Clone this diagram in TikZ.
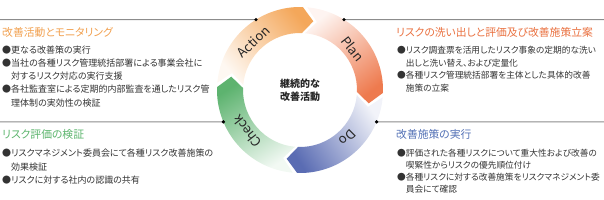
\documentclass[tikz,border=0pt]{standalone}
\usepackage{fontspec}
\setmainfont{Noto Sans CJK JP}[RawFeature=+palt]
\definecolor{actOrange}{HTML}{F4A75A}
\definecolor{planRed}{HTML}{EE7A4E}
\definecolor{doBlue}{HTML}{5A6CB3}
\definecolor{chkGreen}{HTML}{5DB36F}
\definecolor{headOrange}{HTML}{F1A04F}
\definecolor{headRed}{HTML}{E9703F}
\definecolor{headBlue}{HTML}{5270B5}
\definecolor{headGreen}{HTML}{5BB46C}
\newcommand{\pdcaseg}[3]{%
  \shade[top color=#2,bottom color=white!92!#2,shading angle=#3]
    ({#1+96}:83) arc[start angle={#1+96},end angle={#1+9},radius=83]
    -- (#1:70) -- ({#1+9}:57)
    arc[start angle={#1+9},end angle={#1+96},radius=57]
    -- ({#1+87}:70) -- cycle;}
\begin{document}
\begin{tikzpicture}[x=1pt,y=1pt,
  guide/.style={draw=black!45,line width=1.1pt},
  heading/.style={anchor=west,inner sep=0pt,font=\fontsize{10.8}{12}\selectfont},
  body/.style={anchor=north west,inner sep=0pt,align=left,text=black!80},
  steplabel/.style={font=\fontsize{13}{14}\selectfont,text=black!85}]
\useasboundingbox (0,0) rectangle (604,200);
\begin{scope}[shift={(300,110)}]
\pdcaseg{79}{actOrange}{-50}
\pdcaseg{-11}{planRed}{-142}
\pdcaseg{-101}{doBlue}{123}
\pdcaseg{169}{chkGreen}{32}
\node[steplabel,rotate=44] (action) at (134:67) {Action};
\node[steplabel,rotate=-52] (plan) at (38:67) {Plan};
\node[steplabel,rotate=-135] (do) at (-45:67) {Do};
\node[steplabel,rotate=128] (check) at (218:67) {Check};
\node[align=center,text=black!85,font=\bfseries\fontsize{10}{13}\selectfont] (kaizen) at (0,0) {継続的な\\改善活動};
\coordinate (pinA) at (122:83);
\coordinate (pinP) at (58:83);
\coordinate (pinD) at (-22.6:83);
\coordinate (pinC) at (202.6:83);
\end{scope}
\coordinate (endA) at (0,180.4);
\coordinate (endP) at (604,180.4);
\coordinate (endD) at (604,78.1);
\coordinate (endC) at (0,78.1);
\draw[guide] (endA) -- (pinA);
\draw[guide] (endP) -- (pinP);
\draw[guide] (endD) -- (pinD);
\draw[guide] (endC) -- (pinC);
\foreach \p in {pinA,pinP,pinD,pinC} \fill (\p) circle (1.8);

\node[heading,text=headOrange] (actHead) at (2,168) {改善活動とモニタリング};
\node[body,font=\fontsize{9}{13.2}\selectfont] (actBody) at (2,154.4) {●更なる改善策の実行\\●当社の各種リスク管理統括部署による事業会社に\\\phantom{●}対するリスク対応の実行支援\\●各社監査室による定期的内部監査を通したリスク管\\\phantom{●}理体制の実効性の検証};
\node[heading,text=headRed] (planHead) at (396,168) {リスクの洗い出しと評価及び改善施策立案};
\node[body,font=\fontsize{8.7}{12.5}\selectfont] (planBody) at (397,153.7) {●リスク調査票を活用したリスク事象の定期的な洗い\\\phantom{●}出しと洗い替え、および定量化\\●各種リスク管理統括部署を主体とした具体的改善\\\phantom{●}施策の立案};
\node[heading,text=headBlue] (doHead) at (396,66) {改善施策の実行};
\node[body,font=\fontsize{8.7}{12}\selectfont] (doBody) at (397,51.3) {●評価された各種リスクについて重大性および改善の\\\phantom{●}喫緊性からリスクの優先順位付け\\●各種リスクに対する改善施策をリスクマネジメント委\\\phantom{●}員会にて確認};
\node[heading,text=headGreen] (chkHead) at (2,66) {リスク評価の検証};
\node[body,font=\fontsize{9}{13.3}\selectfont] (chkBody) at (2,51) {●リスクマネジメント委員会にて各種リスク改善施策の\\\phantom{●}効果検証\\●リスクに対する社内の認識の共有};
\end{tikzpicture}
\end{document}
